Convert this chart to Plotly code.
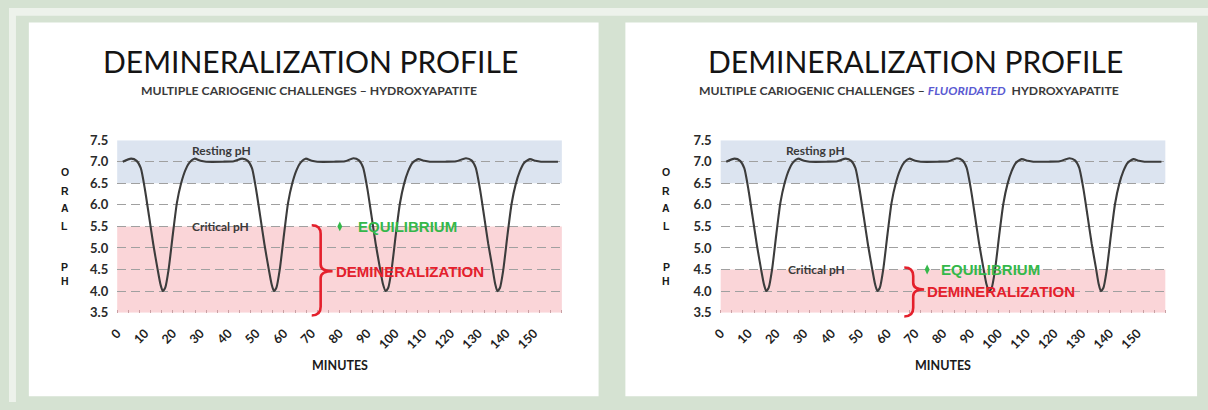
import plotly.graph_objects as go

W, H = 1208, 410

# ---------------- data ----------------
MINUTES = [2, 5, 7, 8.5, 10, 11.5, 13, 14.5, 15.6, 16.4, 17.3, 18.5, 20, 21.5, 23, 24.5, 26, 27.8, 30, 32, 38, 42,
           45, 47, 48.5, 50, 51.5, 53, 54.5, 55.6, 56.4, 57.3, 58.5, 60, 61.5, 63, 64.5, 66, 67.8, 70, 72, 78, 82,
           85, 87, 88.5, 90, 91.5, 93, 94.5, 95.6, 96.6, 97.5, 98.7, 100.2, 101.7, 103.2, 104.7, 106.2, 108.3, 110.5, 112.5, 118, 122,
           125.5, 127.5, 129, 130.5, 132, 133.5, 135, 136, 136.8, 137.7, 138.9, 140.4, 141.9, 143.4, 144.9, 146.4, 148.5, 150.5, 152.5, 158.6]
ORAL_PH = [7.00, 7.07, 7.02, 6.85, 6.35, 5.72, 5.08, 4.52, 4.15, 4.00, 4.08, 4.50, 5.30, 6.05, 6.50, 6.80, 6.98, 7.07, 7.02, 7.00, 7.00, 7.01,
           7.07, 7.02, 6.85, 6.35, 5.72, 5.08, 4.52, 4.15, 4.00, 4.08, 4.50, 5.30, 6.05, 6.50, 6.80, 6.98, 7.07, 7.02, 7.00, 7.00, 7.01,
           7.08, 7.03, 6.86, 6.38, 5.75, 5.10, 4.55, 4.17, 4.00, 4.07, 4.48, 5.28, 6.02, 6.48, 6.78, 6.97, 7.06, 7.02, 7.00, 7.00, 7.01,
           7.08, 7.03, 6.86, 6.38, 5.75, 5.10, 4.55, 4.17, 4.00, 4.07, 4.48, 5.28, 6.02, 6.48, 6.78, 6.97, 7.06, 7.02, 7.00, 7.00]

TICK_MINUTES = [0, 10, 20, 30, 40, 50, 60, 70, 80, 90, 100, 110, 120, 130, 140, 150]
TICK_LABELS = ["0", "10", "20", "30", "40", "50", "60", "70", "80", "90", "100", "110", "120", "130", "140", "150"]
PH_TICKS = [3.5, 4.0, 4.5, 5.0, 5.5, 6.0, 6.5, 7.0, 7.5]
PH_LABELS = ["3.5", "4.0", "4.5", "5.0", "5.5", "6.0", "6.5", "7.0", "7.5"]

RESTING_LOW, RESTING_HIGH = 6.5, 7.5
CRITICAL_PH = [5.5, 4.5]            # left: hydroxyapatite, right: fluoridated
EQUILIBRIUM_MIN = [80.1, 74.3]
TITLE = "DEMINERALIZATION PROFILE"
SUBTITLES = ["MULTIPLE CARIOGENIC CHALLENGES \u2013 HYDROXYAPATITE",
             "MULTIPLE CARIOGENIC CHALLENGES \u2013 <i><span style='color:#5a5ad2'>FLUORIDATED</span></i>\u00a0\u00a0HYDROXYAPATITE"]

# ---------------- styling ----------------
GREEN_FRAME = "#d5e2d2"
BLUE_BAND = "#dce4f0"
PINK_BAND = "#fad5d8"
LINE_COL = "#3c3c3c"
GRID_COL = "#a0a0a0"
EQ_COL = "#34b84a"
RED = "#e4202c"
CAL = "Lato, 'Open Sans', sans-serif"
ARIAL = "'Liberation Sans', Arial, sans-serif"


def px(x):
    return x / W


def py(y):
    return 1 - y / H


fig = go.Figure()

panels = [
    dict(box=(20, 15, 594, 404), plot=(109, 557), title_x=304, sub_x=302, letters_x=56,
         resting_x=37.5, critical_x=37.0, eq_text_x=86.0, demin_x=77.9, demin_y=4.45,
         brace=(305, 314, 326, 226, 274, 320)),
    dict(box=(621, 15, 1197, 404), plot=(717, 1165), title_x=913, sub_x=907, letters_x=662,
         resting_x=34.3, critical_x=34.5, eq_text_x=78.6, demin_x=73.6, demin_y=4.0,
         brace=(902, 911, 922, 270, 293, 321)),
]
PLOT_TOP, PLOT_BOT = 137.5, 317

shapes = []
annotations = []

shapes.append(dict(type="rect", xref="paper", yref="paper", x0=0, x1=1, y0=py(8), y1=1,
                   fillcolor="#edf2eb", line_width=0, layer="below"))
shapes.append(dict(type="rect", xref="paper", yref="paper", x0=0, x1=px(7), y0=0, y1=1,
                   fillcolor="#edf2eb", line_width=0, layer="below"))

for i, p in enumerate(panels):
    xa = "x" if i == 0 else "x2"
    ya = "y" if i == 0 else "y2"
    bx0, by0, bx1, by1 = p["box"]
    shapes.append(dict(type="rect", xref="paper", yref="paper", x0=px(bx0), x1=px(bx1),
                       y0=py(by1), y1=py(by0), fillcolor="white", line_width=0, layer="below"))

    shapes.append(dict(type="rect", xref=f"{xa} domain", yref=ya, x0=0, x1=1,
                       y0=RESTING_LOW, y1=RESTING_HIGH, fillcolor=BLUE_BAND, line_width=0, layer="below"))
    shapes.append(dict(type="rect", xref=f"{xa} domain", yref=ya, x0=0, x1=1,
                       y0=3.5, y1=CRITICAL_PH[i], fillcolor=PINK_BAND, line_width=0, layer="below"))

    xl, xm, xr, yt, ym, yb = p["brace"]
    d = 9
    dt = 7
    pts = lambda x, y: f"{px(x):.5f},{py(y):.5f}"
    path = (f"M{pts(xl, yt)} Q{pts(xm, yt)} {pts(xm, yt + d)} L{pts(xm, ym - dt)} "
            f"Q{pts(xm, ym)} {pts(xr, ym)} Q{pts(xm, ym)} {pts(xm, ym + dt)} "
            f"L{pts(xm, yb - d)} Q{pts(xm, yb)} {pts(xl, yb)}")
    shapes.append(dict(type="path", xref="paper", yref="paper", path=path,
                       line=dict(color=RED, width=2.6), layer="above"))

    fig.add_trace(go.Scatter(x=MINUTES, y=ORAL_PH, mode="lines", xaxis=xa, yaxis=ya,
                             line=dict(color=LINE_COL, width=2.1, shape="spline", smoothing=0.6),
                             showlegend=False, hoverinfo="skip"))
    fig.add_trace(go.Scatter(x=[EQUILIBRIUM_MIN[i]], y=[CRITICAL_PH[i]], mode="markers", xaxis=xa, yaxis=ya,
                             marker=dict(symbol="diamond-tall", size=7, color=EQ_COL),
                             showlegend=False, hoverinfo="skip", cliponaxis=False))

    annotations.append(dict(text=TITLE, x=px(p["title_x"]), y=py(55.5), xref="paper", yref="paper",
                            showarrow=False, xanchor="center", yanchor="middle",
                            font=dict(family=CAL, size=30, color="#141414")))
    annotations.append(dict(text=f"<b>{SUBTITLES[i]}</b>", x=px(p["sub_x"]), y=py(85.5), xref="paper", yref="paper",
                            showarrow=False, xanchor="center", yanchor="middle",
                            font=dict(family=CAL, size=12.2, color="#3a3a3a")))
    for letter, ly in zip(["O", "R", "A", "L", "P", "H"], [170.5, 190, 208.5, 227, 269.5, 284]):
        annotations.append(dict(text=f"<b>{letter}</b>", x=px(p["letters_x"]), y=py(ly), xref="paper", yref="paper",
                                showarrow=False, xanchor="center", yanchor="middle",
                                font=dict(family=ARIAL, size=10.5, color="#1a1a1a")))
    cx = (p["plot"][0] + p["plot"][1]) / 2
    annotations.append(dict(text="<b>MINUTES</b>", x=px(cx), y=py(372), xref="paper", yref="paper",
                            showarrow=False, xanchor="center", yanchor="middle",
                            font=dict(family=CAL, size=12.5, color="#1a1a1a")))
    annotations.append(dict(text="<b>Resting pH</b>", x=p["resting_x"], y=7.27, xref=xa, yref=ya, showarrow=False,
                            xanchor="center", yanchor="middle", font=dict(family=CAL, size=12, color="#3a3a3a")))
    annotations.append(dict(text="<b>Critical pH</b>", x=p["critical_x"], y=CRITICAL_PH[i], xref=xa, yref=ya,
                            showarrow=False, xanchor="center", yanchor="middle",
                            font=dict(family=CAL, size=12, color="#3a3a3a")))
    annotations.append(dict(text="<b>EQUILIBRIUM</b>", x=p["eq_text_x"], y=CRITICAL_PH[i], xref=xa, yref=ya,
                            showarrow=False, xanchor="left", yanchor="middle",
                            font=dict(family=ARIAL, size=15, color=EQ_COL)))
    annotations.append(dict(text="<b>DEMINERALIZATION</b>", x=p["demin_x"], y=p["demin_y"], xref=xa, yref=ya,
                            showarrow=False, xanchor="left", yanchor="middle",
                            font=dict(family=ARIAL, size=15, color=RED)))

y_dom = [py(PLOT_BOT), py(PLOT_TOP)]
common_x = dict(range=[0, 160], tickmode="array", tickvals=TICK_MINUTES,
                ticktext=[f"<b>{t}</b>" for t in TICK_LABELS],
                tickangle=-45, showgrid=False, zeroline=False, showline=False, ticks="",
                ticklabelstandoff=10,
                tickfont=dict(family=CAL, size=12.5, color="#1e1e1e"),
                minor=dict(tickmode="linear", tick0=0, dtick=4, ticks="inside", ticklen=3,
                           tickcolor="#c9a0a4", tickwidth=1, showgrid=False),
                fixedrange=True)
common_y = dict(range=[3.5, 7.5], tickmode="array", tickvals=PH_TICKS,
                ticktext=[f"<b>{t}</b>" for t in PH_LABELS], showgrid=True, gridcolor=GRID_COL,
                griddash="9px,5px", gridwidth=1.3, zeroline=False, showline=False, ticks="",
                ticklabelstandoff=8,
                tickfont=dict(family=CAL, size=13, color="#2a2a2a"), fixedrange=True)

fig.update_layout(
    width=W, height=H, margin=dict(l=0, r=0, t=0, b=0),
    paper_bgcolor=GREEN_FRAME, plot_bgcolor="white",
    xaxis=dict(domain=[px(panels[0]["plot"][0]), px(panels[0]["plot"][1])], anchor="y", **common_x),
    yaxis=dict(domain=y_dom, anchor="x", **common_y),
    xaxis2=dict(domain=[px(panels[1]["plot"][0]), px(panels[1]["plot"][1])], anchor="y2", **common_x),
    yaxis2=dict(domain=y_dom, anchor="x2", **common_y),
    shapes=shapes, annotations=annotations, showlegend=False,
)

fig.write_html("out.html", config={"displayModeBar": False},
               post_script="document.body.style.margin='0';document.body.style.overflow='hidden';")
